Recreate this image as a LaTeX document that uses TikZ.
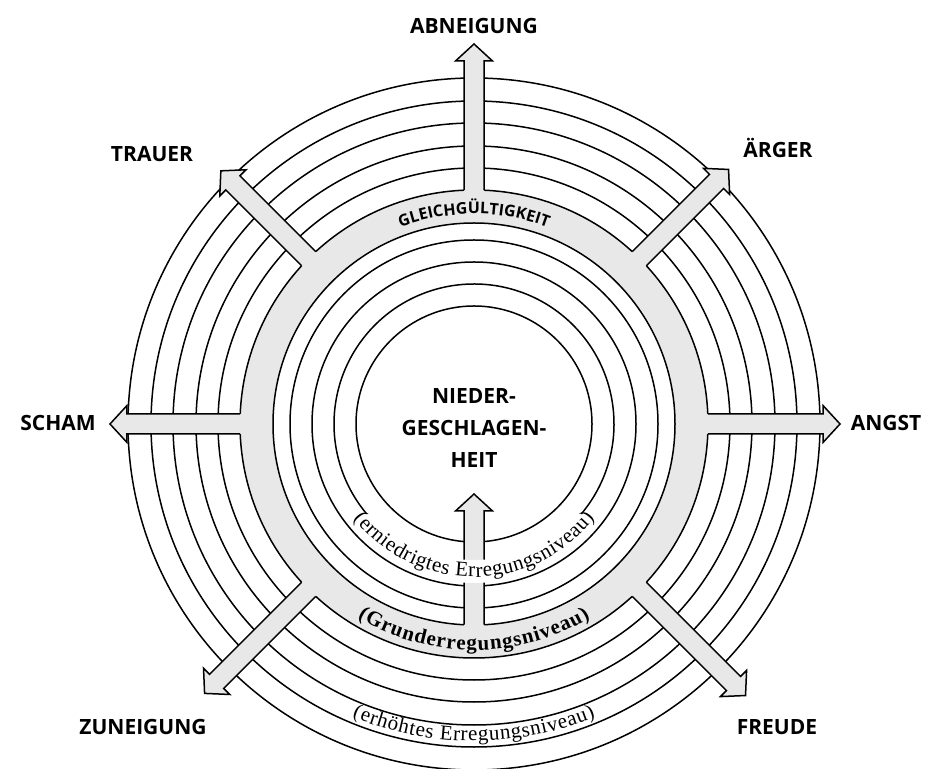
\documentclass[tikz,border=0pt]{standalone}
\usepackage{fontspec}
\newfontfamily\labelfont{Open Sans}
\newfontfamily\levelfont{Liberation Serif}
\usetikzlibrary{decorations.text}
\definecolor{bandgray}{gray}{0.91}
\tikzset{
  ring/.style={line width=0.75pt},
  blockline/.style={line width=0.75pt,line join=miter},
  emotion/.style={font=\labelfont\bfseries\fontsize{10.5}{16}\selectfont,inner sep=0pt},
  levelpath/.style={decorate,decoration={text along path,text align=center,text={#1}}},
  spreadpath/.style={decorate,decoration={text along path,text align=fit to path,text={#1}}}
}
\begin{document}
\begin{tikzpicture}[x=0.5pt,y=0.5pt]
\useasboundingbox (-474,-345) rectangle (461,424);
\foreach \r in {346,323,301,278,256}
  \draw[ring] (0,0) circle (\r);
\fill[bandgray,even odd rule] (0,0) circle (234) (0,0) circle (201);
\draw[ring] (0,0) circle (234);
\draw[ring] (0,0) circle (201);
\draw[ring] (0,0) circle (184);
\draw[ring] (0,0) circle (162);
\draw[ring] (-40:140) arc[start angle=-40,end angle=220,radius=140];
\draw[ring] (0,0) circle (118);
\foreach \ang/\tip in {90/380,45/360,0/366,-45/384,-135/381,180/364,135/358}
{
  \begin{scope}[rotate=\ang]
    \fill[bandgray] (226,-10) -- (\tip-17,-10) -- (\tip-17,-18.5) -- (\tip,0) -- (\tip-17,18.5) -- (\tip-17,10) -- (226,10) -- cycle;
    \draw[blockline] (233.8,-10) -- (\tip-17,-10) -- (\tip-17,-18.5) -- (\tip,0) -- (\tip-17,18.5) -- (\tip-17,10) -- (233.8,10);
  \end{scope}
}
\fill[bandgray] (-10,-207) -- (-10,-87) -- (-18.5,-87) -- (0,-70) -- (18.5,-87) -- (10,-87) -- (10,-207) -- cycle;
\draw[blockline] (-10,-200.7) -- (-10,-87) -- (-18.5,-87) -- (0,-70) -- (18.5,-87) -- (10,-87) -- (10,-200.7);
\fill[white] (262:136) arc[start angle=262,end angle=278,radius=136] -- (278:159) arc[start angle=278,end angle=262,radius=159] -- cycle;
\path[levelpath={|\labelfont\bfseries\fontsize{8}{8}\selectfont|GLEICHGÜLTIGKEIT}] (150:210) arc[start angle=150,end angle=30,radius=210];
\path[spreadpath={|\levelfont\fontsize{10.5}{10.5}\selectfont|(erniedrigtes Erregungsniveau)}] (218:153) arc[start angle=218,end angle=322,radius=153];
\path[spreadpath={|\levelfont\bfseries\fontsize{10.5}{10.5}\selectfont|(Grunderregungsniveau)}] (239:226) arc[start angle=239,end angle=301,radius=226];
\path[spreadpath={|\levelfont\fontsize{10.5}{10.5}\selectfont|(erhöhtes Erregungsniveau)}] (247.4:317) arc[start angle=247.4,end angle=292.6,radius=317];
\node[emotion,align=center] (center) at (0,-4) {NIEDER-\\GESCHLAGEN-\\HEIT};
\node[emotion] (abneigung) at (0,398) {ABNEIGUNG};
\node[emotion] (aerger) at (304,276) {ÄRGER};
\node[emotion] (angst) at (412,1) {ANGST};
\node[emotion] (freude) at (303,-303) {FREUDE};
\node[emotion] (zuneigung) at (-331,-303) {ZUNEIGUNG};
\node[emotion] (scham) at (-416,1) {SCHAM};
\node[emotion] (trauer) at (-322,270) {TRAUER};
\end{tikzpicture}
\end{document}
